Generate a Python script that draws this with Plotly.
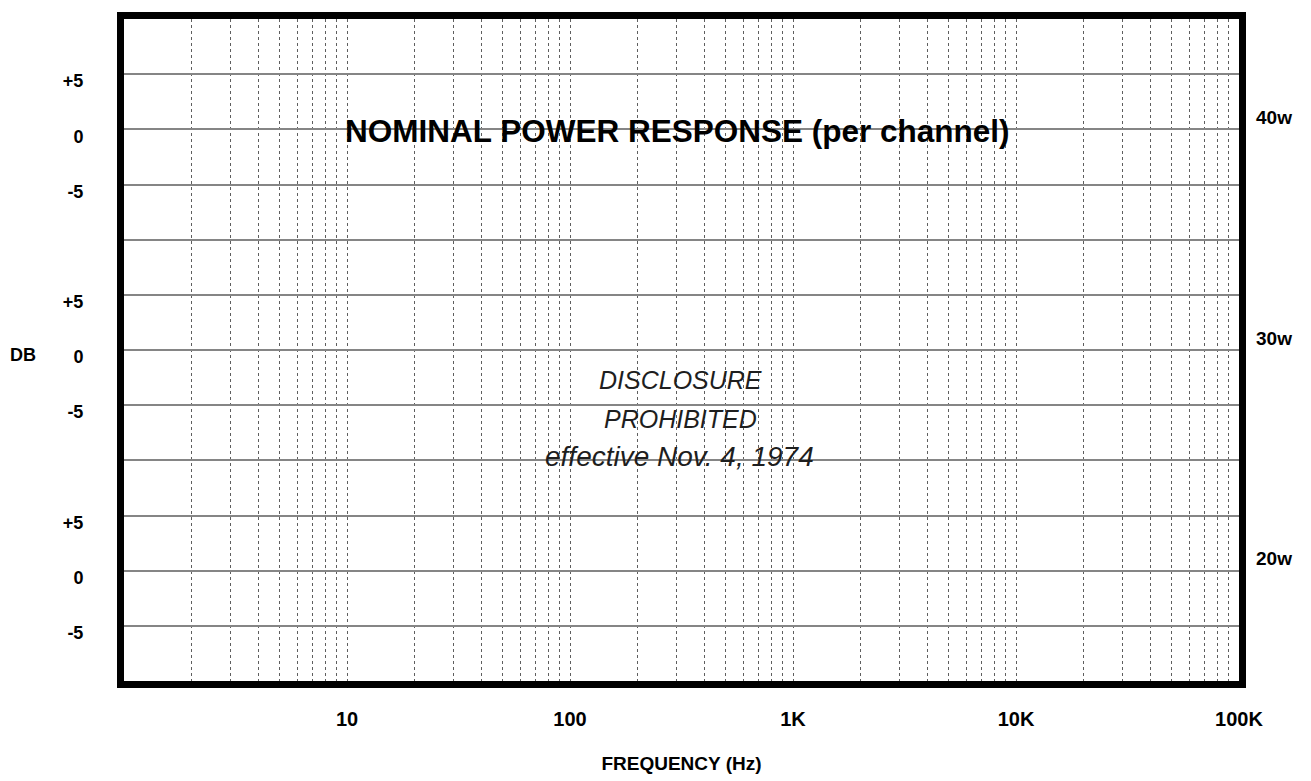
import plotly.graph_objects as go

# ---- data (a blank log-frequency response chart) ----
FREQ_DECADES = [1, 10, 100, 1000, 10000]
GRID_MULTIPLIERS = [1, 2, 3, 4, 5, 6, 7, 8, 9]
FREQ_MIN = 1
FREQ_MAX = 100000
FREQ_LABELS = {10: "10", 100: "100", 1000: "1K", 10000: "10K", 100000: "100K"}

# horizontal rows: 12 equal bands (each 5 dB), lines numbered from the bottom
ROW_MIN = 0
ROW_MAX = 12
DB_LINES = [11, 10, 9, 8, 7, 6, 5, 4, 3, 2, 1]
DB_LABELS = ["+5", "0", "-5", "", "+5", "0", "-5", "", "+5", "0", "-5"]
POWER_LINES = [10, 6, 2]
POWER_LABELS = ["40w", "30w", "20w"]

TITLE = "NOMINAL POWER RESPONSE (per channel)"
STAMP_LINES = ["DISCLOSURE", "PROHIBITED", "effective Nov. 4, 1974"]
X_TITLE = "FREQUENCY (Hz)"
Y_TITLE = "DB"

# ---- build tick/grid lists ----
x_tickvals = []
for d in FREQ_DECADES:
    for m in GRID_MULTIPLIERS:
        v = m * d
        if v == FREQ_MIN:
            continue
        x_tickvals.append(v)
x_tickvals.append(FREQ_MAX)
x_ticktext = ["<b>%s</b>" % FREQ_LABELS[v] if v in FREQ_LABELS else "" for v in x_tickvals]

SANS = "Liberation Sans, Arial, sans-serif"

fig = go.Figure()
fig.add_trace(go.Scatter(x=[FREQ_MIN, FREQ_MAX], y=[ROW_MIN, ROW_MAX], mode="markers",
                         marker=dict(opacity=0), hoverinfo="skip", showlegend=False))
fig.add_trace(go.Scatter(x=[FREQ_MIN, FREQ_MAX], y=[ROW_MIN, ROW_MAX], mode="markers",
                         marker=dict(opacity=0), hoverinfo="skip", showlegend=False, yaxis="y2"))

# page body has an 8px margin; the figure is laid out so that the frame lands
# at page x 120..1242 and y 15..684 (frame 7px drawn just outside the plot area)
PAGE_OFF = 8
L, R, T, B = 116, 80, 11, 108
fig.update_layout(
    width=1311, height=781,
    margin=dict(l=L, r=R, t=T, b=B, autoexpand=False),
    paper_bgcolor="white", plot_bgcolor="white",
    showlegend=False,
    xaxis=dict(
        type="log", range=[0, 5], automargin=False,
        tickvals=x_tickvals, ticktext=x_ticktext,
        showgrid=True, gridcolor="#5e5e5e", gridwidth=1, griddash="dot",
        showline=True, linecolor="black", linewidth=7, mirror=True,
        ticks="", ticklabelstandoff=14,
        tickfont=dict(family=SANS, size=20, color="black"),
        title=dict(text="<b>%s</b>" % X_TITLE, standoff=30,
                   font=dict(family=SANS, size=19, color="black")),
        zeroline=False,
    ),
    yaxis=dict(
        range=[ROW_MIN, ROW_MAX], automargin=False,
        tickvals=DB_LINES, ticktext=["<b>%s</b>" % t if t else "" for t in DB_LABELS],
        showgrid=True, gridcolor="#858585", gridwidth=1.6,
        showline=True, linecolor="black", linewidth=7, mirror=True,
        ticks="", ticklabelstandoff=30, ticklabelshift=7,
        tickfont=dict(family=SANS, size=18, color="black"),
        zeroline=False,
    ),
    yaxis2=dict(
        range=[ROW_MIN, ROW_MAX], overlaying="y", side="right", automargin=False,
        tickvals=POWER_LINES, ticktext=["<b>%s</b>" % t for t in POWER_LABELS],
        showgrid=False, showline=False, zeroline=False,
        ticks="", ticklabelstandoff=16, ticklabelshift=-12,
        tickfont=dict(family=SANS, size=19, color="black"),
    ),
)

PLOT_H = 781 - T - B
PLOT_W = 1311 - L - R


def page_to_paper_y(py):
    return (781 - B - (py - PAGE_OFF)) / PLOT_H


def page_to_paper_x(px):
    return ((px - PAGE_OFF) - L) / PLOT_W


# chart title, printed inside the grid starting at 10 Hz
fig.add_annotation(x=1, y=9.97, xref="x", yref="y", text="<b>%s</b>" % TITLE,
                   showarrow=False, xanchor="left", yanchor="middle", xshift=-4,
                   font=dict(family=SANS, size=31.5, color="black"))

# stamp text (page-pixel centres and font sizes)
stamp_px = [(680, 380, 25), (680, 419, 25), (679, 456, 28)]
for txt, (sx, sy, sz) in zip(STAMP_LINES, stamp_px):
    fig.add_annotation(x=page_to_paper_x(sx), y=page_to_paper_y(sy), xref="paper", yref="paper",
                       text="<i>%s</i>" % txt, showarrow=False,
                       xanchor="center", yanchor="middle",
                       font=dict(family=SANS, size=sz, color="#1e1e1e"))

# left "DB" label
fig.add_annotation(x=page_to_paper_x(23), y=page_to_paper_y(355), xref="paper", yref="paper",
                   text="<b>%s</b>" % Y_TITLE, showarrow=False,
                   xanchor="center", yanchor="middle",
                   font=dict(family=SANS, size=18, color="black"))

fig.write_html("out.html")
